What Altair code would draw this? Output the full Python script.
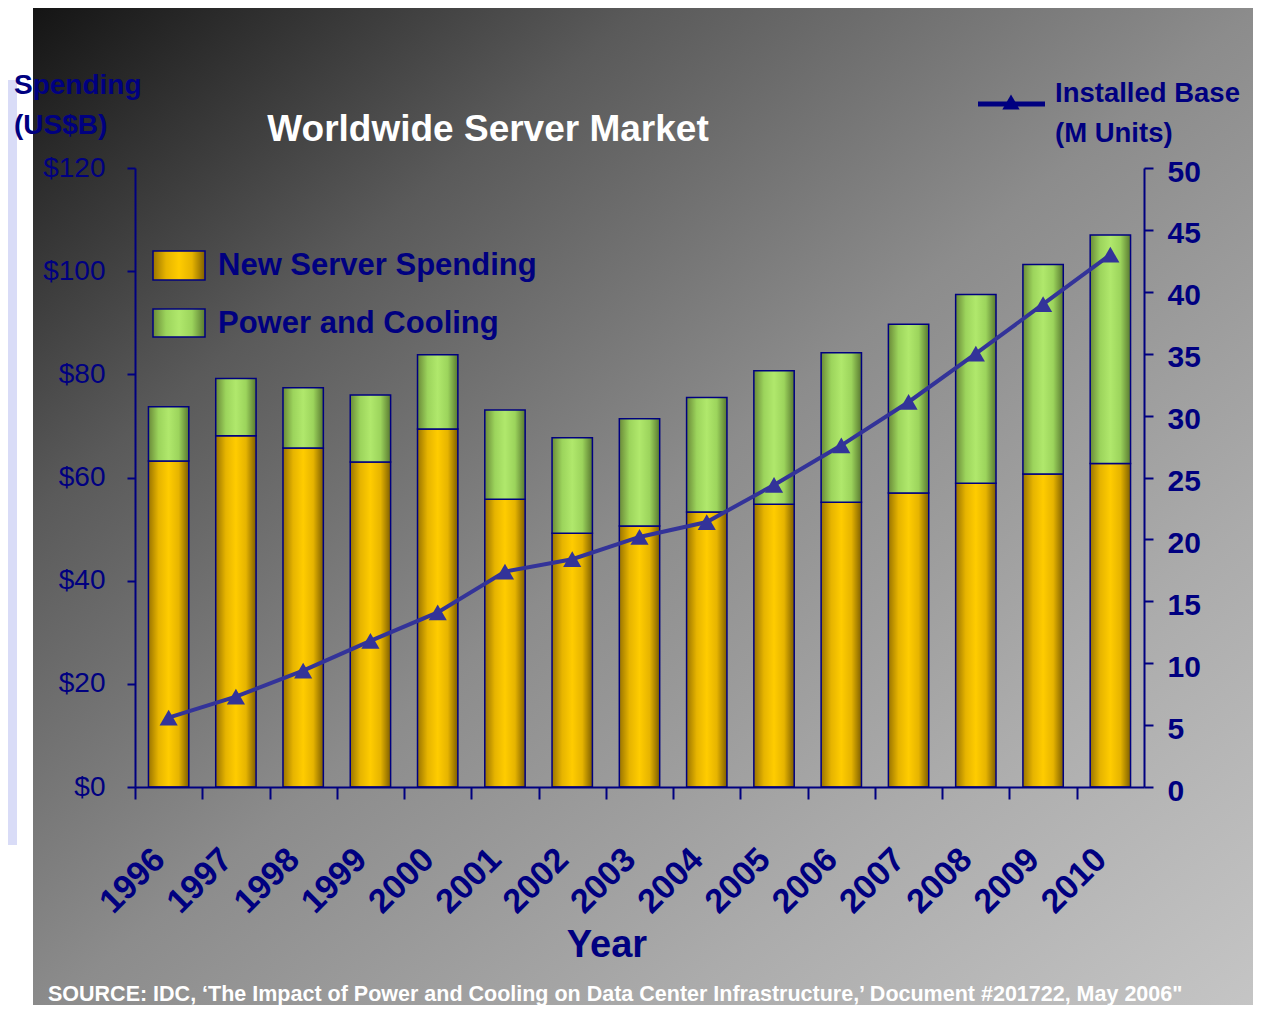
import altair as alt
import pandas as pd

years = ["1996", "1997", "1998", "1999", "2000", "2001", "2002", "2003",
         "2004", "2005", "2006", "2007", "2008", "2009", "2010"]
new_server = [63.2, 68.1, 65.7, 63.0, 69.4, 55.8, 49.2, 50.6, 53.3, 54.8, 55.2, 57.0, 58.9, 60.7, 62.7]
power_cooling = [10.5, 11.1, 11.7, 13.0, 14.4, 17.3, 18.5, 20.8, 22.2, 25.9, 29.0, 32.7, 36.6, 40.6, 44.3]
installed_base = [5.6, 7.3, 9.4, 11.8, 14.1, 17.4, 18.4, 20.2, 21.4, 24.4, 27.6, 31.1, 35.0, 39.0, 43.0]
left_ticks = [0, 20, 40, 60, 80, 100, 120]
right_ticks = [0, 5, 10, 15, 20, 25, 30, 35, 40, 45, 50]

df = pd.DataFrame({"year": years, "new": new_server, "power": power_cooling, "base": installed_base})
one = pd.DataFrame({"k": [0]})

NAVY = "#000080"
LINE = "#333399"
SANS = "Liberation Sans, Arial"

# plot origin on the page: (135, 168)
OX, OY = 135, 168
W, H = 1009, 619

gold = alt.Gradient(gradient="linear", x1=0, x2=1, y1=0, y2=0, stops=[
    alt.GradientStop(color="#9a7400", offset=0),
    alt.GradientStop(color="#e6b400", offset=0.25),
    alt.GradientStop(color="#ffcc00", offset=0.5),
    alt.GradientStop(color="#e6b400", offset=0.75),
    alt.GradientStop(color="#7e5e00", offset=1)])
green = alt.Gradient(gradient="linear", x1=0, x2=1, y1=0, y2=0, stops=[
    alt.GradientStop(color="#6a8a38", offset=0),
    alt.GradientStop(color="#9cd45c", offset=0.25),
    alt.GradientStop(color="#b0e86c", offset=0.5),
    alt.GradientStop(color="#9cd45c", offset=0.75),
    alt.GradientStop(color="#587830", offset=1)])
bg_grad = alt.Gradient(gradient="linear", x1=0, x2=1, y1=0, y2=1, stops=[
    alt.GradientStop(color="#141414", offset=0),
    alt.GradientStop(color="#5a5a5a", offset=0.25),
    alt.GradientStop(color="#8c8c8c", offset=0.5),
    alt.GradientStop(color="#ababab", offset=0.75),
    alt.GradientStop(color="#c6c6c6", offset=1)])

step = W / 15.0
x_axis = alt.Axis(bandPosition=0, tickOffset=-0.2 * step, labelOffset=4, labelAngle=-45,
                  labelAlign="right", labelBaseline="middle", labelPadding=55, tickSize=12,
                  tickWidth=2, tickColor=NAVY, domainColor=NAVY, domainWidth=2, labelFont=SANS,
                  labelFontSize=34, labelFontWeight="bold", labelColor=NAVY, grid=False,
                  title=None, zindex=2)
x_enc = alt.X("year:O", scale=alt.Scale(paddingInner=0.4, paddingOuter=0.2), axis=x_axis)

left_axis = alt.Axis(orient="left", values=left_ticks, labelExpr="'$' + datum.value",
                     tickSize=8, tickWidth=2, tickColor=NAVY, domainColor=NAVY, domainWidth=2,
                     labelFont=SANS, labelFontSize=28, labelColor=NAVY, labelPadding=22,
                     grid=False, title=None, zindex=2)
right_axis = alt.Axis(orient="right", values=right_ticks, tickSize=9, tickWidth=2,
                      tickColor=NAVY, domainColor=NAVY, domainWidth=2, labelFont=SANS,
                      labelFontSize=30, labelFontWeight="bold", labelColor=NAVY,
                      labelPadding=14, labelOffset=4, grid=False, title=None, zindex=2)

bg = alt.Chart(one).mark_rect(color=bg_grad).encode(
    x=alt.value(33 - OX), x2=alt.value(1261 - OX), y=alt.value(5 - OY), y2=alt.value(1021 - OY))
lav = alt.Chart(one).mark_rect(color="#d9dcf7").encode(
    x=alt.value(8 - OX), x2=alt.value(17 - OX), y=alt.value(80 - OY), y2=alt.value(845 - OY))

base = alt.Chart(df)
new_bars = base.mark_bar(color=gold, stroke=NAVY, strokeWidth=1.5).encode(
    x=x_enc,
    y=alt.Y("new:Q", scale=alt.Scale(domain=[0, 120], nice=False), axis=left_axis))
power_bars = base.transform_calculate(total="datum.new + datum.power").mark_bar(
    color=green, stroke=NAVY, strokeWidth=1.5).encode(
    x=x_enc, y=alt.Y("new:Q"), y2="total:Q")
bars = alt.layer(new_bars, power_bars)

y_right = alt.Y("base:Q", scale=alt.Scale(domain=[0, 50], nice=False), axis=right_axis)
line = base.mark_line(color=LINE, strokeWidth=4).encode(x=x_enc, y=y_right)
pts = base.mark_point(shape="triangle-up", filled=True, size=330, color=LINE, opacity=1).encode(
    x=x_enc, y=y_right)
line_layer = alt.layer(line, pts)


def txt(s, px, py, size, color=NAVY, weight="bold", font=SANS, align="left"):
    return alt.Chart(pd.DataFrame({"t": [s]})).mark_text(
        align=align, baseline="middle", fontSize=size, fontWeight=weight, font=font,
        color=color).encode(x=alt.value(px - OX), y=alt.value(py - OY), text="t:N")


texts = [
    txt("Worldwide Server Market", 488, 130, 37, color="white", align="center"),
    txt("Spending", 14, 86, 28),
    txt("(US$B)", 14, 126, 28),
    txt("Installed Base", 1055, 94, 27.5),
    txt("(M Units)", 1055, 134, 27.5),
    txt("New Server Spending", 218, 266, 31),
    txt("Power and Cooling", 218, 324, 31),
    txt("Year", 607, 946, 38, align="center"),
    txt("SOURCE: IDC, \u2018The Impact of Power and Cooling on Data Center Infrastructure,\u2019 Document #201722, May 2006\"",
        48, 995, 21.5, color="white"),
]

sw1 = alt.Chart(one).mark_rect(color=gold, stroke=NAVY, strokeWidth=1.5).encode(
    x=alt.value(153 - OX), x2=alt.value(205 - OX), y=alt.value(251 - OY), y2=alt.value(280 - OY))
sw2 = alt.Chart(one).mark_rect(color=green, stroke=NAVY, strokeWidth=1.5).encode(
    x=alt.value(153 - OX), x2=alt.value(205 - OX), y=alt.value(309 - OY), y2=alt.value(337 - OY))
leg_line = alt.Chart(one).mark_rule(color=NAVY, strokeWidth=5).encode(
    x=alt.value(978 - OX), x2=alt.value(1045 - OX), y=alt.value(104 - OY))
leg_pt = alt.Chart(one).mark_point(shape="triangle-up", filled=True, size=300, color=NAVY,
                                   opacity=1).encode(x=alt.value(1011 - OX), y=alt.value(102 - OY))

chart = alt.layer(bg, lav, bars, line_layer, sw1, sw2, leg_line, leg_pt, *texts).resolve_scale(
    y="independent").properties(
    width=W, height=H,
    padding={"left": OX - 8, "top": OY - 8, "right": 1245 - (OX - 8) - W, "bottom": 218},
    autosize=alt.AutoSizeParams(type="none"),
    background="white",
).configure_view(stroke=None)

chart.save("out.html", embed_options={"renderer": "svg", "actions": False})
